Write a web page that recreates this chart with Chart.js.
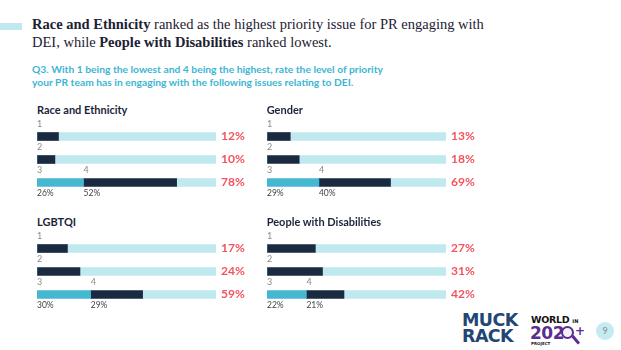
<!DOCTYPE html>
<html>
<head>
<meta charset="utf-8">
<script src="https://cdn.jsdelivr.net/npm/chart.js@4.4.1/dist/chart.umd.min.js"></script>
<style>
  body { margin: 0; width: 621px; height: 350px; background: #fff; position: relative; overflow: hidden; font-family: Lato, "Open Sans", sans-serif; }
  .abs { position: absolute; white-space: nowrap; }
  .headbar { left: 0; top: 23px; width: 22px; height: 7px; background: #c3e9f0; }
  .headline { left: 32px; top: 15px; font: 14.5px/18px "Liberation Serif", serif; color: #1c2133; }
  .question { left: 32px; top: 63px; font: 700 10.3px/12.7px Lato, sans-serif; color: #3db6d2; }
  .ptitle { font: 700 11px/11px Lato, sans-serif; color: #1b2539; }
  canvas { position: absolute; }
  .muck { left: 462px; top: 313px; font: 900 17.5px/15.5px "DejaVu Sans", sans-serif; color: #1f4675; letter-spacing: -0.6px; }
  .world { left: 531px; top: 315px; font: 700 9.5px/9px "DejaVu Sans", sans-serif; color: #111; letter-spacing: -0.3px; }
  .world small { font-size: 5px; letter-spacing: 0; }
  .yr { left: 530px; top: 325px; font: 700 17px/17px "DejaVu Sans", sans-serif; color: #5b2d91; letter-spacing: -0.5px; }
  .proj { left: 531px; top: 341px; font: 700 4px/5px "DejaVu Sans", sans-serif; color: #222; }
  .lens { left: 561px; top: 326px; width: 9px; height: 9px; border: 2.5px solid #5b2d91; border-radius: 50%; background: #f2f2f2; }
  .handle { left: 571px; top: 336px; width: 3px; height: 10px; background: #5b2d91; transform: rotate(-40deg); transform-origin: top center; }
  .plus { left: 575px; top: 325px; font: 700 12px/12px "DejaVu Sans", sans-serif; color: #5b2d91; }
  .page { left: 596px; top: 322px; width: 18px; height: 18px; border-radius: 50%; background: #c5eaf2; color: #8a8a8a; font: 9px/18px Lato, sans-serif; text-align: center; }
</style>
</head>
<body>
<div class="abs headbar"></div>
<div class="abs headline"><b>Race and Ethnicity</b> ranked as the highest priority issue for PR engaging with<br>DEI, while <b>People with Disabilities</b> ranked lowest.</div>
<div class="abs question">Q3. With 1 being the lowest and 4 being the highest, rate the level of priority<br>your PR team has in engaging with the following issues relating to DEI.</div>

<div class="abs muck">MUCK<br>RACK</div>
<div class="abs world">WORLD <small>IN</small></div>
<div class="abs yr">202</div>
<div class="abs lens"></div>
<div class="abs handle"></div>
<div class="abs plus">+</div>
<div class="abs proj">PROJECT</div>
<div class="abs page">9</div>

<script>
// Q3 priority ratings, share of respondents per rank (1 = lowest, 4 = highest)
const issues = ['Race and Ethnicity', 'Gender', 'LGBTQI', 'People with Disabilities'];
const rows = ['1', '2', '3'];
const rank1 = [12, 13, 17, 27];
const rank2 = [10, 18, 24, 31];
const rank3 = [26, 29, 30, 22];
const rank4 = [52, 40, 29, 21];
const topTwo = [78, 69, 59, 42];   // rank 3 + 4 as printed (rounded)

// panel placement (left edge of bars, top of the 3-row band)
const panelPos = [
  { x: 37,    y: 125 },
  { x: 266.7, y: 125 },
  { x: 37,    y: 237.3 },
  { x: 266.7, y: 237.3 }
];

const NAVY = '#1a2a41';
const TEAL = '#45b8d1';
const TRACK = '#bfe8ef';
const RED = '#f4525c';

function labelPlugin(i) {
  return {
    id: 'rankLabels' + i,
    afterDatasetsDraw(chart) {
      const { ctx, chartArea, scales: { x, y } } = chart;
      const totals = [rank1[i], rank2[i], topTwo[i]];
      ctx.save();
      rows.forEach((r, k) => {
        const cy = y.getPixelForValue(k);
        // rank number above the bar
        ctx.font = '9px Lato, sans-serif';
        ctx.fillStyle = '#8a8a8a';
        ctx.textAlign = 'left';
        ctx.textBaseline = 'middle';
        ctx.fillText(r, x.getPixelForValue(0), cy - 12.5);
        // red total on the right
        ctx.font = '700 12px Lato, sans-serif';
        ctx.fillStyle = RED;
        ctx.fillText(totals[k] + '%', chartArea.right + 5, cy - 0.5);
      });
      // row 3 split: ranks 3 and 4
      const cy = y.getPixelForValue(2);
      const x4 = x.getPixelForValue(rank3[i]);
      ctx.font = '9px Lato, sans-serif';
      ctx.fillStyle = '#8a8a8a';
      ctx.fillText('4', x4, cy - 12.5);
      ctx.font = '8.5px Lato, sans-serif';
      ctx.fillStyle = '#444';
      ctx.fillText(rank3[i] + '%', x.getPixelForValue(0), cy + 11);
      ctx.fillText(rank4[i] + '%', x4, cy + 11);
      ctx.restore();
    }
  };
}

issues.forEach((name, i) => {
  const p = panelPos[i];

  const t = document.createElement('div');
  t.className = 'abs ptitle';
  t.style.left = p.x + 'px';
  t.style.top = (p.y - 21.5) + 'px';
  t.textContent = name;
  document.body.appendChild(t);

  const c = document.createElement('canvas');
  c.width = 260;
  c.height = 90;
  c.style.left = (p.x - 17) + 'px';
  c.style.top = (p.y - 13) + 'px';
  document.body.appendChild(c);

  const navy = [rank1[i], rank2[i], rank4[i]];
  const teal = [0, 0, rank3[i]];
  const rest = navy.map((v, k) => 100 - v - teal[k]);

  new Chart(c, {
    type: 'bar',
    data: {
      labels: rows,
      datasets: [
        { data: teal, backgroundColor: TEAL },
        { data: navy, backgroundColor: NAVY },
        { data: rest, backgroundColor: TRACK }
      ]
    },
    options: {
      indexAxis: 'y',
      responsive: false,
      animation: false,
      devicePixelRatio: 1,
      barThickness: 8,
      borderWidth: 0,
      layout: { padding: { left: 17, right: 64, top: 13, bottom: 8 } },
      plugins: { legend: { display: false }, tooltip: { enabled: false } },
      scales: {
        x: { stacked: true, min: 0, max: 100, display: false },
        y: { stacked: true, display: false }
      }
    },
    plugins: [labelPlugin(i)]
  });
});
</script>
</body>
</html>
